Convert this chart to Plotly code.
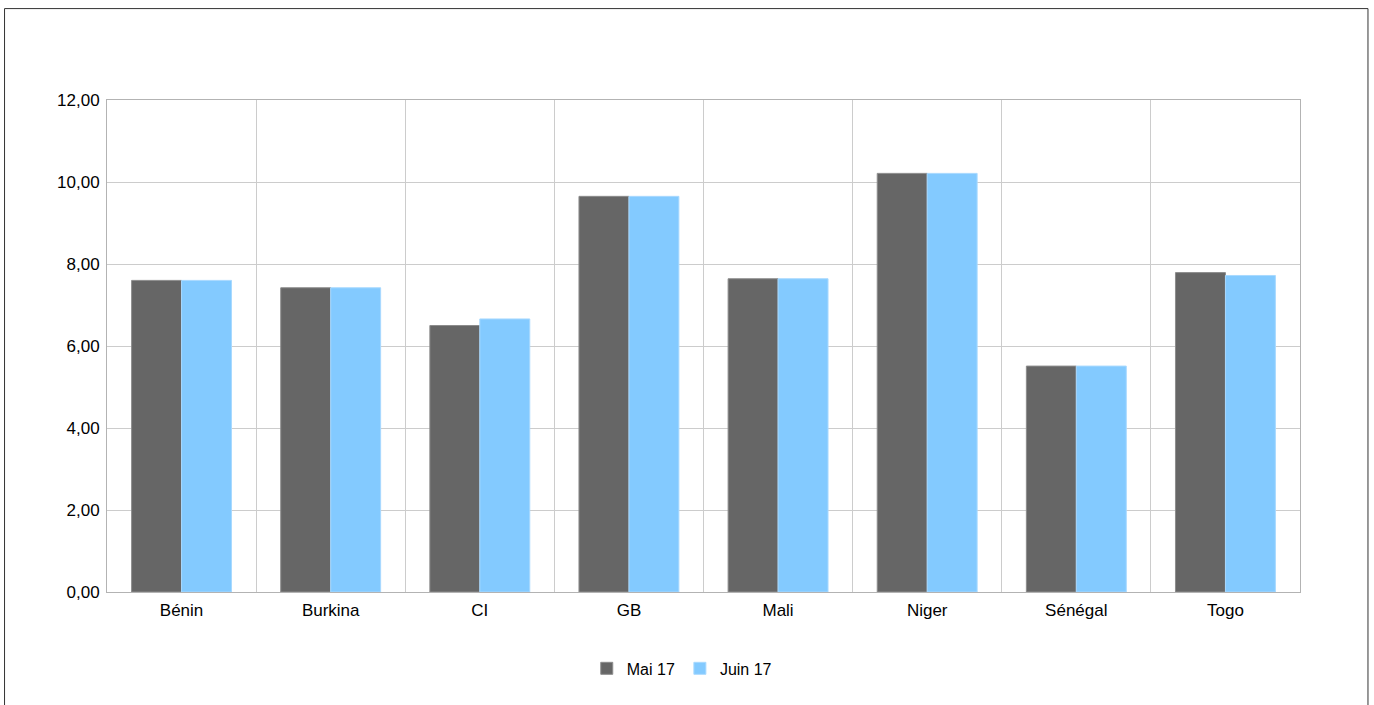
import plotly.graph_objects as go

categories = ["Bénin", "Burkina", "CI", "GB", "Mali", "Niger", "Sénégal", "Togo"]
mai_17 = [7.60, 7.42, 6.50, 9.65, 7.64, 10.21, 5.51, 7.79]
juin_17 = [7.60, 7.42, 6.66, 9.65, 7.64, 10.21, 5.51, 7.72]
y_ticks = [0, 2, 4, 6, 8, 10, 12]

W, H = 1374, 705
L, R, T, B = 107, 73.5, 100, 112.5
pw = W - L - R
ph = H - T - B

fig = go.Figure()
fig.add_trace(go.Bar(name="Mai 17", x=categories, y=mai_17,
                     marker=dict(color="#666666", line=dict(color="#8c8c8c", width=1))))
fig.add_trace(go.Bar(name="Juin 17", x=categories, y=juin_17,
                     marker=dict(color="#83caff", line=dict(color="#a8d9ff", width=1))))

def px_x(x):
    return (x - L) / pw

def px_y(y):
    return (H - B - y) / ph

fig.add_shape(type="rect", xref="paper", yref="paper",
              x0=px_x(4.5), x1=px_x(1368.5), y0=px_y(712), y1=px_y(8.5),
              line=dict(color="#333333", width=1), fillcolor="rgba(0,0,0,0)", layer="below")

fig.update_layout(
    width=W, height=H,
    margin=dict(l=L, r=R, t=T, b=B, autoexpand=False),
    paper_bgcolor="white", plot_bgcolor="white",
    barmode="group", bargap=0.33, bargroupgap=0,
    separators=",.",
    font=dict(family="Liberation Sans, Arial, sans-serif", size=17, color="black"),
    showlegend=True,
    legend=dict(orientation="h", x=px_x(682), xanchor="center", y=px_y(669), yanchor="middle",
                font=dict(size=16), itemwidth=30, traceorder="normal"),
)
fig.update_xaxes(tickson="boundaries", showgrid=True, gridcolor="#cccccc", gridwidth=1,
                 showline=True, linecolor="#b3b3b3", mirror=True, ticks="", ticklen=0,
                 ticklabelstandoff=3)
fig.update_yaxes(range=[0, 12], tickvals=y_ticks, tickformat=".2f", showgrid=True,
                 gridcolor="#cccccc", gridwidth=1, showline=True, linecolor="#b3b3b3",
                 mirror=True, ticks="", ticklabelstandoff=3, zeroline=False)

fig.write_html("out.html", config={"displayModeBar": False},
               post_script="document.body.style.margin='0';document.body.style.overflow='hidden';")
